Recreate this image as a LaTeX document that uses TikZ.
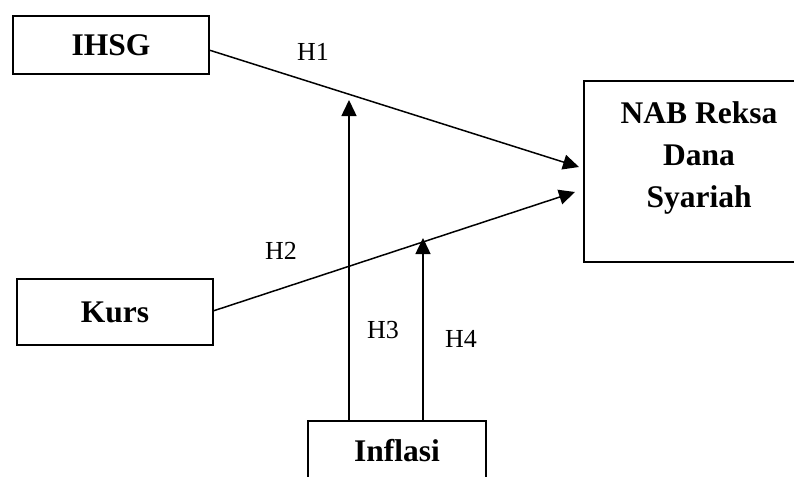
\documentclass[tikz,border=0pt]{standalone}
\usepackage{fontspec}
\setmainfont{Liberation Serif}
\usetikzlibrary{arrows.meta}
\tikzset{
  varbox/.style={draw, line width=1.8pt, inner sep=0pt, font=\fontsize{31.5}{41}\selectfont\bfseries, align=center},
  boldtext/.style={font=\fontsize{31.5}{42}\selectfont\bfseries, inner sep=0pt, align=center},
  hlabel/.style={font=\fontsize{26}{30}\selectfont, inner sep=0pt},
  conn/.style={line width=1.5pt, -{Triangle[length=16pt,width=15pt]}}
}
\begin{document}
\begin{tikzpicture}[x=1pt,y=-1pt]
\useasboundingbox (0,0) rectangle (794,476);
\clip (0,0) rectangle (794,476);
\node[varbox, minimum width=196pt, minimum height=58pt] (ihsg) at (111,45) {IHSG};
\node[varbox, minimum width=196pt, minimum height=66pt] (kurs) at (115,312) {Kurs};
\node[varbox, minimum width=178pt, minimum height=70pt, anchor=north] (inflasi) at (397,420) {};
\node[boldtext] (inflasitext) at (397,451) {Inflasi};
\node[varbox, minimum width=232pt, minimum height=181pt] (nab) at (700,171.5) {};
\node[boldtext] (nabtext) at (699,158) {NAB Reksa\\Dana\\Syariah};
\coordinate (s1) at (209,50);
\coordinate (t1) at (579,167);
\coordinate (s2) at (213,311);
\coordinate (t2) at (575,192);
\coordinate (b3) at (349,420);
\coordinate (t3) at (349,100);
\coordinate (b4) at (423,420);
\coordinate (t4) at (423,238);
\draw[conn] (s1) -- (t1);
\draw[conn] (s2) -- (t2);
\draw[conn] (b3) -- (t3);
\draw[conn] (b4) -- (t4);
\node[hlabel] (h1) at (313,52) {H1};
\node[hlabel] (h2) at (281,251) {H2};
\node[hlabel] (h3) at (383,330) {H3};
\node[hlabel] (h4) at (461,339) {H4};
\end{tikzpicture}
\end{document}
